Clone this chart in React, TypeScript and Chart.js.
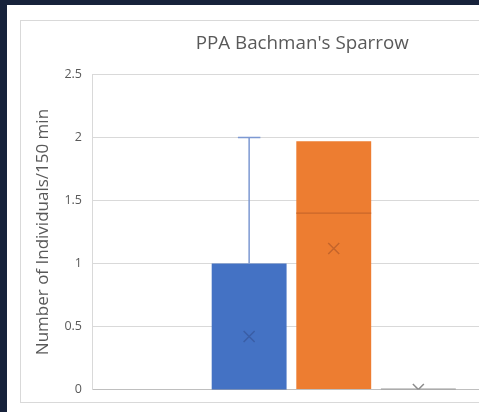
import React, { useEffect, useRef } from "react";
import { Chart, registerables } from "chart.js";

Chart.register(...registerables);

// ---- data ----
const chartTitle = "PPA Bachman's Sparrow";
const yAxisTitle = "Number of Individuals/150 min";
const categories = [""];
const seriesNames = ["Series 1", "Series 2", "Series 3"];
const boxMin = [0, 0, 0];
const boxQ1 = [0, 0, 0];
const boxMedian = [0, 1.4, 0];
const boxQ3 = [1, 1.97, 0];
const boxMax = [2, 1.97, 0];
const boxMean = [0.42, 1.12, 0];
const yTicks = [0, 0.5, 1, 1.5, 2, 2.5];

// ---- styles ----
const fillColors = ["#4472C4", "#ED7D31", "#A5A5A5"];
const medianColors = ["#3b63ad", "#c9672a", "#9a9a9a"];
const meanColors = ["#3a5ea6", "#c4652b", "#8c8c8c"];
const whiskerColors = ["#7d99d2", "#e59a66", "#9a9a9a"];
const textColor = "#595959";
const font = "'Open Sans', sans-serif";

const boxPlugin = {
  id: "boxExtras",
  afterDatasetsDraw(chart: any) {
    const ctx = chart.ctx;
    const y = chart.scales.y;
    const area = chart.chartArea;
    ctx.save();
    ctx.beginPath();
    ctx.rect(area.left, area.top, area.right - area.left, area.bottom - area.top);
    ctx.clip();
    chart.data.datasets.forEach((_ds: any, i: number) => {
      const meta = chart.getDatasetMeta(i);
      const bar: any = meta.data[0];
      if (!bar) return;
      const cx = bar.x;
      const w = bar.width;
      const capW = w * 0.3;
      ctx.strokeStyle = whiskerColors[i];
      ctx.lineWidth = 1.5;
      if (boxMax[i] > boxQ3[i]) {
        ctx.beginPath();
        ctx.moveTo(cx, y.getPixelForValue(boxQ3[i]));
        ctx.lineTo(cx, y.getPixelForValue(boxMax[i]));
        ctx.moveTo(cx - capW / 2, y.getPixelForValue(boxMax[i]));
        ctx.lineTo(cx + capW / 2, y.getPixelForValue(boxMax[i]));
        ctx.stroke();
      }
      if (boxMin[i] < boxQ1[i]) {
        ctx.beginPath();
        ctx.moveTo(cx, y.getPixelForValue(boxQ1[i]));
        ctx.lineTo(cx, y.getPixelForValue(boxMin[i]));
        ctx.moveTo(cx - capW / 2, y.getPixelForValue(boxMin[i]));
        ctx.lineTo(cx + capW / 2, y.getPixelForValue(boxMin[i]));
        ctx.stroke();
      }
      const my = y.getPixelForValue(boxMedian[i]);
      ctx.strokeStyle = medianColors[i];
      ctx.lineWidth = boxQ3[i] === boxQ1[i] ? 2 : 1.2;
      ctx.beginPath();
      ctx.moveTo(cx - w / 2, my);
      ctx.lineTo(cx + w / 2, my);
      ctx.stroke();
      const ey = y.getPixelForValue(boxMean[i]);
      const s = 5.5;
      ctx.strokeStyle = meanColors[i];
      ctx.lineWidth = 1.5;
      ctx.beginPath();
      ctx.moveTo(cx - s, ey - s);
      ctx.lineTo(cx + s, ey + s);
      ctx.moveTo(cx + s, ey - s);
      ctx.lineTo(cx - s, ey + s);
      ctx.stroke();
    });
    ctx.restore();
  },
};

export default function App() {
  const ref = useRef<HTMLCanvasElement | null>(null);

  useEffect(() => {
    document.body.style.margin = "0";
    document.body.style.background = "#17223b";
    const canvas = ref.current;
    if (!canvas) return;
    const chart = new Chart(canvas, {
      type: "bar",
      data: {
        labels: categories,
        datasets: seriesNames.map((name, i) => ({
          label: name,
          data: [[boxQ1[i], boxQ3[i]]] as any,
          backgroundColor: fillColors[i],
          borderWidth: 0,
          categoryPercentage: 0.525,
          barPercentage: 0.885,
        })),
      },
      options: {
        responsive: false,
        animation: false,
        layout: { padding: { left: 8, right: 19.5, top: 0, bottom: 6 } },
        plugins: {
          legend: { display: false },
          tooltip: { enabled: false },
          title: {
            display: true,
            text: chartTitle,
            color: textColor,
            font: { family: font, size: 18.8, weight: "normal" },
            padding: { top: 11, bottom: 20 },
          },
        },
        scales: {
          x: {
            grid: { display: false, drawTicks: false },
            border: { display: true, color: "#bfbfbf", width: 1 },
            ticks: { display: false },
          },
          y: {
            min: 0,
            max: 2.5,
            afterBuildTicks: (scale: any) => {
              scale.ticks = yTicks.map((v) => ({ value: v }));
            },
            afterFit: (scale: any) => {
              scale.width = 63;
            },
            grid: { color: "#d9d9d9", drawTicks: false },
            border: { display: true, color: "#d9d9d9" },
            ticks: {
              color: textColor,
              padding: 10,
              font: { family: font, size: 12.5 },
              callback: (v: any) => String(v),
            },
            title: {
              display: true,
              text: yAxisTitle,
              color: textColor,
              font: { family: font, size: 17 },
              padding: { top: 4, bottom: 0 },
            },
          },
        },
      },
      plugins: [boxPlugin],
    });
    return () => chart.destroy();
  }, []);

  return (
    <div style={{ position: "fixed", inset: 0, background: "#17223b", overflow: "hidden" }}>
      <div
        style={{
          position: "absolute",
          left: 7,
          top: 5,
          right: 0,
          bottom: 0,
          background: "#ffffff",
          overflow: "hidden",
        }}
      >
        <div
          style={{
            position: "absolute",
            left: 13,
            top: 15,
            width: 576,
            height: 383,
            border: "1px solid #d9d9d9",
            boxSizing: "border-box",
          }}
        >
          <canvas ref={ref} width={574} height={386} style={{ width: 574, height: 386, display: "block" }} />
        </div>
      </div>
    </div>
  );
}
